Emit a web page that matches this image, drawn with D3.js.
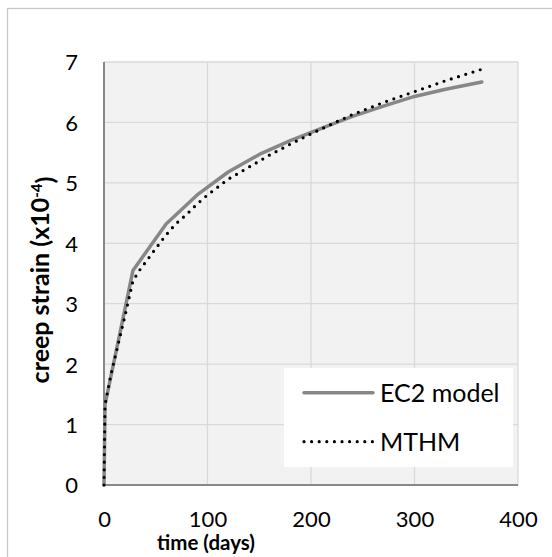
<!DOCTYPE html>
<html>
<head>
<meta charset="utf-8">
<script src="https://cdn.jsdelivr.net/npm/d3@7"></script>
<style>
  html, body { margin: 0; padding: 0; background: #fff; }
  svg { display: block; }
  text { font-family: Lato, "Open Sans", sans-serif; fill: #000; }
</style>
</head>
<body>
<svg id="chart" width="552" height="557"></svg>
<script>
// ---- data ----
const xTicks = [0, 100, 200, 300, 400];
const yTicks = [0, 1, 2, 3, 4, 5, 6, 7];
const seriesNames = ["EC2 model", "MTHM"];
const ec2Time   = [0, 1, 28, 60, 90, 120, 150, 180, 210, 240, 270, 300, 330, 365];
const ec2Strain = [0, 1.33, 3.55, 4.32, 4.80, 5.18, 5.47, 5.70, 5.90, 6.10, 6.27, 6.43, 6.55, 6.67];
const mthmTime   = [0, 1, 7, 14, 21, 28, 35, 42, 49, 56, 63, 70, 80, 90, 100, 120, 140, 160, 180, 200, 226, 240, 270, 300, 330, 365];
const mthmStrain = [0, 1.33, 1.85, 2.35, 2.85, 3.38, 3.57, 3.73, 3.89, 4.05, 4.20, 4.33, 4.48, 4.65, 4.80, 5.06, 5.26, 5.46, 5.64, 5.81, 6.02, 6.13, 6.33, 6.51, 6.69, 6.88];
const xTitle = "time (days)";
const yTitle = "creep strain (x10";
const yTitleSup = "-4";

// ---- layout ----
const svg = d3.select("#chart");
const L = 104, R = 518, T = 62, B = 485;
const x = d3.scaleLinear().domain([0, 400]).range([L, R]);
const y = d3.scaleLinear().domain([0, 7]).range([B, T]);

// outer border
svg.append("rect").attr("x", 7.5).attr("y", 8.5).attr("width", 552).attr("height", 560)
  .attr("fill", "#fff").attr("stroke", "#c8c8c8").attr("stroke-width", 1.3);

// plot background
svg.append("rect").attr("x", L).attr("y", T).attr("width", R - L).attr("height", B - T)
  .attr("fill", "#f2f2f2");

// gridlines
svg.append("g").selectAll("line").data(yTicks.filter(d => d > 0)).join("line")
  .attr("x1", L).attr("x2", R).attr("y1", d => y(d)).attr("y2", d => y(d))
  .attr("stroke", "#d9d9d9").attr("stroke-width", 1.3);
svg.append("g").selectAll("line").data(xTicks.filter(d => d > 0)).join("line")
  .attr("y1", T).attr("y2", B).attr("x1", d => x(d)).attr("x2", d => x(d))
  .attr("stroke", "#d9d9d9").attr("stroke-width", 1.3);

// axis lines
svg.append("line").attr("x1", L).attr("x2", L).attr("y1", T).attr("y2", B)
  .attr("stroke", "#888").attr("stroke-width", 2);
svg.append("line").attr("x1", L).attr("x2", R).attr("y1", B).attr("y2", B)
  .attr("stroke", "#888").attr("stroke-width", 2);

// axes labels
const fmt = d3.format("d");
const ax = svg.append("g").attr("transform", `translate(0,${B})`)
  .call(d3.axisBottom(x).tickValues(xTicks).tickFormat(fmt).tickSize(0).tickPadding(0));
ax.select(".domain").remove();
ax.selectAll("text").attr("y", 42).attr("dy", null)
  .style("font-family", "Lato, sans-serif").style("font-size", "22px").attr("fill", "#000");

const ay = svg.append("g").attr("transform", `translate(${L},0)`)
  .call(d3.axisLeft(y).tickValues(yTicks).tickFormat(fmt).tickSize(0).tickPadding(26));
ay.select(".domain").remove();
ay.selectAll("text").attr("dy", "0.36em")
  .style("font-family", "Lato, sans-serif").style("font-size", "22px").attr("fill", "#000");

// series
const line = d3.line().x(d => x(d[0])).y(d => y(d[1]));
const ec2 = ec2Time.map((t, i) => [t, ec2Strain[i]]);
const mthm = mthmTime.map((t, i) => [t, mthmStrain[i]]);

svg.append("path").datum(ec2).attr("d", line)
  .attr("fill", "none").attr("stroke", "#878787").attr("stroke-width", 3.5)
  .attr("stroke-linejoin", "round").attr("stroke-linecap", "round");
svg.append("path").datum(mthm).attr("d", line)
  .attr("fill", "none").attr("stroke", "#000").attr("stroke-width", 3.2)
  .attr("stroke-dasharray", "0 7.6").attr("stroke-linecap", "round");

// legend
svg.append("rect").attr("x", 284).attr("y", 368).attr("width", 229).attr("height", 99)
  .attr("fill", "#fff");
svg.append("line").attr("x1", 304).attr("x2", 373).attr("y1", 392.7).attr("y2", 392.7)
  .attr("stroke", "#878787").attr("stroke-width", 3.5).attr("stroke-linecap", "round");
svg.append("line").attr("x1", 304).attr("x2", 373).attr("y1", 441.7).attr("y2", 441.7)
  .attr("stroke", "#000").attr("stroke-width", 3.2)
  .attr("stroke-dasharray", "0 7.6").attr("stroke-linecap", "round");
svg.append("text").attr("x", 380).attr("y", 401.5).style("font-size", "25px").text(seriesNames[0]);
svg.append("text").attr("x", 380).attr("y", 450.5).style("font-size", "25px").text(seriesNames[1]);

// titles
svg.append("text").attr("x", 206).attr("y", 550).attr("text-anchor", "middle")
  .style("font-size", "20.5px").style("font-weight", "bold").text(xTitle);
const yt = svg.append("text").attr("transform", `translate(49,280) rotate(-90)`)
  .attr("text-anchor", "middle").style("font-size", "25px").style("font-weight", "bold");
yt.append("tspan").text(yTitle);
yt.append("tspan").attr("dy", "-0.45em").style("font-size", "15px").text(yTitleSup);
yt.append("tspan").attr("dy", "0.45em").text(")");
</script>
</body>
</html>
